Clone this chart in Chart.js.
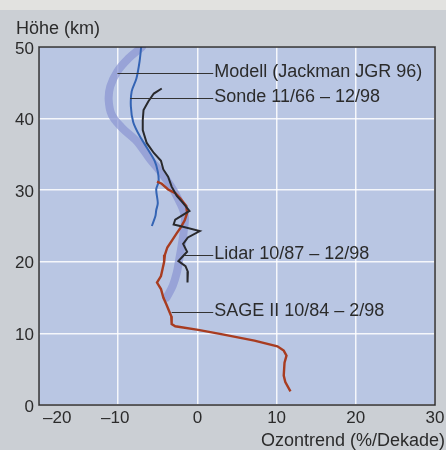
<!DOCTYPE html>
<html>
<head>
<meta charset="utf-8">
<script src="https://cdn.jsdelivr.net/npm/chart.js@4/dist/chart.umd.min.js"></script>
<style>
  html, body { margin: 0; padding: 0; background: #cbcfd4; }
  #ozon { display: block; }
</style>
</head>
<body>
<canvas id="ozon" width="446" height="450"></canvas>
<script>
// Ozontrend-Profile (%/Dekade) über der Höhe (km)
const modellTrend  = [-7.0, -8.7, -10.1, -11.0, -11.2, -10.8, -9.5, -7.8, -6.8, -5.9, -4.9, -3.3, -2.3, -1.6, -1.7, -2.0, -2.3, -2.6, -3.1, -3.9];
const modellHeight = [50, 48.4, 46.6, 44.5, 42.6, 40.5, 38.7, 37.0, 35.6, 34.2, 32.9, 30.5, 28.5, 26.5, 24.5, 22.2, 20.3, 18.5, 16.7, 15.0];

const sondeTrend  = [-7.1, -7.3, -7.7, -8.3, -8.4, -8.1, -7.3, -6.3, -5.4, -5.0, -4.9, -5.2, -5.0, -5.2, -5.3, -5.75];
const sondeHeight = [50, 48, 45.6, 43.8, 41.7, 39.5, 37.6, 35.8, 34.1, 32.6, 31.2, 30.1, 28.2, 27.2, 26.4, 25.0];

const lidarTrend  = [-4.5, -5.5, -6.2, -6.8, -6.9, -6.9, -6.4, -5.5, -4.6, -4.3, -3.7, -3.25, -2.6, -1.8, -1.0, -2.8, -3.0, -2.2, 0.3, -1.2, -1.8, -1.3, -2.4, -1.5, -1.2, -1.25];
const lidarHeight = [44.2, 43.5, 42.4, 41.2, 39.8, 38.4, 36.6, 35.2, 34.1, 32.9, 31.9, 30.5, 29.2, 28.2, 27.1, 25.9, 25.2, 25.0, 24.3, 23.4, 22.5, 21.4, 20.1, 19.4, 18.6, 17.1];

const sageTrend  = [-5.1, -4.5, -3.7, -2.8, -2.2, -1.4, -1.3, -1.6, -2.1, -2.6, -3.2, -3.8, -4.1, -4.2, -4.4, -4.6, -5.1, -4.6, -4.3, -3.9, -3.6, -3.3, -3.25, -2.8, 0.1, 3.0, 7.2, 10.1, 10.9, 11.25, 11.0, 10.9, 11.1, 11.75];
const sageHeight = [31.2, 30.9, 30.1, 29.6, 28.9, 27.8, 26.8, 25.8, 24.8, 24.0, 23.0, 22.0, 21.0, 20.0, 19.0, 18.0, 17.1, 16.2, 15.0, 14.0, 13.2, 12.4, 11.3, 11.0, 10.5, 9.9, 9.0, 8.2, 7.6, 6.9, 5.9, 4.1, 3.2, 1.9];

const xTicks = [-20, -10, 0, 10, 20, 30];
const yTicks = [0, 10, 20, 30, 40, 50];
const seriesNames = ['Modell (Jackman JGR 96)', 'Sonde 11/66 – 12/98', 'Lidar 10/87 – 12/98', 'SAGE II 10/84 – 2/98'];

// wo die Hinweislinien an den Kurven ansetzen (Trend, Höhe)
const leaderFrom   = [-10.1, -8.5, -1.75, -3.25];
const leaderHeight = [46.4, 42.9, 20.9, 13.0];
const leaderTo = 2.0;

const FONT = '"Liberation Sans", Arial, Helvetica, sans-serif';
const TEXT = '#2b2b2b';

const pts = (xs, ys) => xs.map((x, i) => ({ x, y: ys[i] }));
const minus = v => (v < 0 ? '–' + Math.abs(v) : String(v));

const decor = {
  id: 'decor',
  beforeDraw(chart) {
    const { ctx, chartArea: a } = chart;
    ctx.save();
    ctx.fillStyle = '#cbcfd4';
    ctx.fillRect(0, 0, chart.width, chart.height);
    ctx.fillStyle = '#e2e2e0';
    ctx.fillRect(0, 0, chart.width, 10);
    ctx.fillStyle = '#b9c6e3';
    ctx.fillRect(a.left, a.top, a.right - a.left, a.bottom - a.top);
    ctx.restore();
  },
  afterDraw(chart) {
    const { ctx, chartArea: a, scales: { x, y } } = chart;
    ctx.save();
    ctx.strokeStyle = '#2a2a2c';
    ctx.lineWidth = 1.5;
    ctx.strokeRect(a.left, a.top, a.right - a.left, a.bottom - a.top);

    ctx.fillStyle = TEXT;
    ctx.font = '17px ' + FONT;
    ctx.textAlign = 'right';
    ctx.textBaseline = 'middle';
    yTicks.forEach(v => ctx.fillText(String(v), 34, y.getPixelForValue(v) + 2));

    ctx.textAlign = 'center';
    xTicks.forEach(v => {
      const s = minus(v);
      const w = ctx.measureText(s).width;
      let cx = x.getPixelForValue(v) - (v < 0 ? 3 : 0);
      cx = Math.max(cx, a.left + 4 + w / 2);
      ctx.fillText(s, cx, 418);
    });

    ctx.font = '18px ' + FONT;
    ctx.textBaseline = 'alphabetic';
    ctx.textAlign = 'left';
    ctx.fillText('Höhe (km)', 16, 34);
    ctx.textAlign = 'right';
    ctx.fillText('Ozontrend (%/Dekade)', 445, 446);

    // Beschriftung der Kurven mit Hinweislinien
    ctx.textAlign = 'left';
    ctx.strokeStyle = '#333';
    ctx.lineWidth = 1;
    seriesNames.forEach((name, i) => {
      const py = Math.round(y.getPixelForValue(leaderHeight[i])) + 0.5;
      const x0 = x.getPixelForValue(leaderFrom[i]);
      const x1 = x.getPixelForValue(leaderTo);
      ctx.beginPath();
      ctx.moveTo(x0, py);
      ctx.lineTo(x1, py);
      ctx.stroke();
      ctx.fillText(name, x1 + 1, py + 3);
    });
    ctx.restore();
  }
};

new Chart(document.getElementById('ozon'), {
  type: 'scatter',
  data: {
    datasets: [
      { label: seriesNames[0], data: pts(modellTrend, modellHeight), showLine: true, order: 4,
        borderColor: 'rgba(138,150,210,0.72)', borderWidth: 8, tension: 0.4, borderCapStyle: 'round', pointRadius: 0 },
      { label: seriesNames[1], data: pts(sondeTrend, sondeHeight), showLine: true, order: 3,
        borderColor: '#3464b4', borderWidth: 2, tension: 0.3, pointRadius: 0 },
      { label: seriesNames[3], data: pts(sageTrend, sageHeight), showLine: true, order: 2,
        borderColor: '#a83c20', borderWidth: 2.4, tension: 0, pointRadius: 0 },
      { label: seriesNames[2], data: pts(lidarTrend, lidarHeight), showLine: true, order: 1,
        borderColor: '#29292c', borderWidth: 2, tension: 0, pointRadius: 0 }
    ]
  },
  options: {
    responsive: false,
    animation: false,
    devicePixelRatio: 1,
    layout: { padding: { left: 39, right: 11, top: 47, bottom: 45 } },
    plugins: { legend: { display: false }, tooltip: { enabled: false } },
    scales: {
      x: {
        type: 'linear', min: -20, max: 30,
        ticks: { display: false, stepSize: 10 },
        grid: { color: 'rgba(255,255,255,0.85)', lineWidth: 1.5, drawTicks: false },
        border: { display: false }
      },
      y: {
        type: 'linear', min: 0, max: 50,
        ticks: { display: false, stepSize: 10 },
        grid: { color: 'rgba(255,255,255,0.85)', lineWidth: 1.5, drawTicks: false },
        border: { display: false }
      }
    }
  },
  plugins: [decor]
});
</script>
</body>
</html>
